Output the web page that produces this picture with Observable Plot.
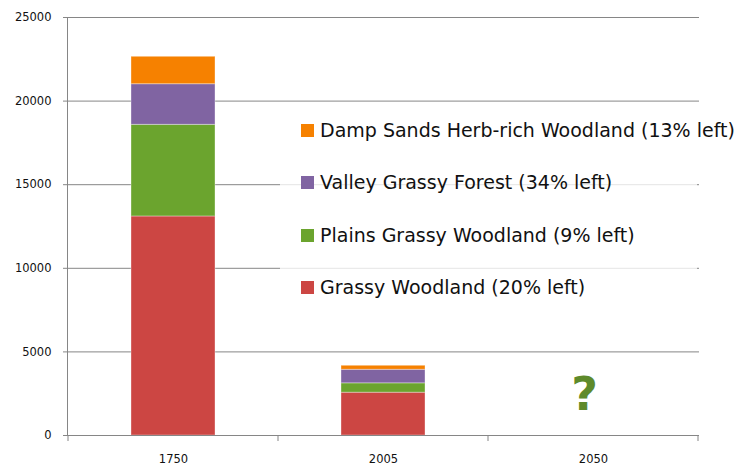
<!DOCTYPE html>
<html>
<head>
<meta charset="utf-8">
<script src="https://cdn.jsdelivr.net/npm/d3@7"></script>
<script src="https://cdn.jsdelivr.net/npm/@observablehq/plot@0.6"></script>
<style>
  html, body { margin: 0; padding: 0; background: #fff; }
  #wrap { position: relative; width: 737px; height: 466px; }
  #legend {
    position: absolute; left: 280px; top: 108px; width: 417px; height: 200px;
    background: rgba(255,255,255,0.78);
    font-family: "DejaVu Sans", sans-serif; font-size: 19px; color: #111;
  }
  .row { position: absolute; left: 0; white-space: nowrap; display: flex; align-items: center; height: 24px; }
  .sw { width: 13px; height: 13px; margin-left: 21px; margin-right: 6px; }
</style>
</head>
<body>
<div id="wrap"></div>
<script>
// Data
const categories = ["1750", "2005", "2050"];
const seriesNames = [
  "Grassy Woodland (20% left)",
  "Plains Grassy Woodland (9% left)",
  "Valley Grassy Forest (34% left)",
  "Damp Sands Herb-rich Woodland (13% left)"
];
const seriesColors = ["#cc4643", "#6ba42e", "#8064a2", "#f68100"];
const grassyWoodland = [13100, 2560];
const plainsGrassyWoodland = [5480, 560];
const valleyGrassyForest = [2430, 810];
const dampSandsWoodland = [1640, 240];
const yTicks = [0, 5000, 10000, 15000, 20000, 25000];
const annotations = [{cat: "2050", value: 2400, text: "?"}];

const seriesValues = [grassyWoodland, plainsGrassyWoodland, valleyGrassyForest, dampSandsWoodland];
const rows = [];
seriesNames.forEach((name, s) => {
  seriesValues[s].forEach((v, i) => rows.push({cat: categories[i], series: name, value: v}));
});

const GRAY = "#868686";
const PAD_INNER = 0.6;

// tick marks at category boundaries (Excel-style), computed from the x scale
function boundaryTicks(index, scales, values, dims) {
  const x = scales.x;
  const step = x(categories[1]) - x(categories[0]);
  let bw = x.bandwidth;
  if (typeof bw === "function") bw = bw();
  if (typeof bw !== "number" || !isFinite(bw)) bw = step * (1 - PAD_INNER);
  const gap = (step - bw) / 2;
  const g = d3.create("svg:g").attr("stroke", GRAY).attr("stroke-width", 1);
  const y0 = dims.height - dims.marginBottom;
  const xs = categories.map(c => x(c) - gap);
  xs.push(x(categories[categories.length - 1]) + bw + gap);
  for (const px of xs) {
    g.append("line").attr("x1", px).attr("x2", px).attr("y1", y0).attr("y2", y0 + 6);
  }
  return g.node();
}

const chart = Plot.plot({
  width: 737,
  height: 466,
  marginLeft: 67,
  marginRight: 38,
  marginTop: 17,
  marginBottom: 31,
  style: {fontFamily: "DejaVu Sans, sans-serif", fontSize: "11.5px", background: "white"},
  x: {domain: categories, paddingInner: PAD_INNER, paddingOuter: PAD_INNER / 2, axis: null, label: null},
  y: {domain: [0, 25000], axis: null, label: null},
  color: {domain: seriesNames, range: seriesColors},
  marks: [
    Plot.gridY(yTicks, {stroke: GRAY, strokeOpacity: 1}),
    Plot.barY(rows, Plot.stackY({x: "cat", y: "value", fill: "series", order: null,
      stroke: "white", strokeOpacity: 0.35, strokeWidth: 1})),
    Plot.frame({anchor: "left", stroke: GRAY}),
    Plot.ruleY([0], {stroke: GRAY}),
    Plot.axisY(yTicks, {tickFormat: "d", tickSize: 4, tickPadding: 12, stroke: GRAY, fill: "#111", label: null}),
    Plot.axisX({tickSize: 0, tickPadding: 19, fill: "#111", label: null}),
    boundaryTicks,
    Plot.text(annotations, {x: "cat", y: "value", text: "text", dx: -9,
      fontSize: 46, fontWeight: "bold", fill: "#5e8a2b", fontFamily: "DejaVu Sans, sans-serif"})
  ]
});

const wrap = document.getElementById("wrap");
wrap.appendChild(chart);

// Legend (top to bottom: reverse of stack order)
const legend = document.createElement("div");
legend.id = "legend";
const rowTops = [10, 62, 115, 167];
[3, 2, 1, 0].forEach((s, k) => {
  const r = document.createElement("div");
  r.className = "row";
  r.style.top = rowTops[k] + "px";
  const sw = document.createElement("span");
  sw.className = "sw";
  sw.style.background = seriesColors[s];
  const t = document.createElement("span");
  t.textContent = seriesNames[s];
  r.appendChild(sw); r.appendChild(t);
  legend.appendChild(r);
});
wrap.appendChild(legend);
</script>
</body>
</html>
